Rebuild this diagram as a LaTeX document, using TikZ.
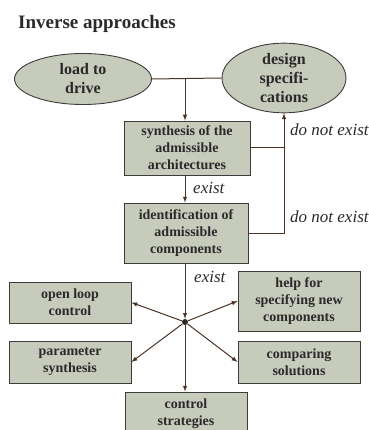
\documentclass[tikz,border=0pt]{standalone}
\usepackage{fontspec}
\setmainfont{Liberation Serif}
\usepackage{tikz}
\usetikzlibrary{shapes, arrows}

\definecolor{boxfill}{HTML}{C7CBBC}
\definecolor{boxline}{HTML}{3C3C3C}
\definecolor{wire}{HTML}{4A3328}
\definecolor{ink}{HTML}{2A2A2A}

\begin{document}
\begin{tikzpicture}[x=1pt, y=-1pt,
    blob/.style = {draw=boxline, fill=boxfill, ellipse, line width=0.9pt, inner sep=0pt,
                   text=ink, font=\fontsize{16}{19}\selectfont\bfseries, align=center},
    box/.style = {draw=boxline, fill=boxfill, rectangle, line width=0.9pt, inner sep=0pt,
                  text=ink, font=\fontsize{14}{17}\selectfont\bfseries, align=center},
    lbl/.style = {anchor=west, inner sep=0pt, text=ink, font=\fontsize{17}{20}\selectfont\itshape},
    wire/.style = {draw=wire, line width=1pt}]
                \clip (0,0) rectangle (368,430);

                \node[anchor=base west, inner sep=0pt, text=ink, font=\fontsize{19}{22}\selectfont\bfseries]
                    at (18, 29) (title) {Inverse approaches};

                \node[blob, minimum width=137, minimum height=51] at (83, 79) (load) {load to\\drive};
                \node[blob, minimum width=124, minimum height=61] at (284, 78) (design) {design\\specifi-\\cations};
                \node[box, minimum width=126, minimum height=54] at (187, 148) (synth) {synthesis of the\\admissible\\architectures};
                \node[box, minimum width=124, minimum height=60] at (186, 233) (ident) {identification of\\admissible\\components};
                \node[box, minimum width=122, minimum height=41] at (70, 302.5) (open) {open loop\\control};
                \node[box, minimum width=122, minimum height=42] at (70, 362) (param) {parameter\\synthesis};
                \node[box, minimum width=122, minimum height=60] at (299, 301) (help) {help for\\specifying new\\components};
                \node[box, minimum width=122, minimum height=42] at (299, 362) (compare) {comparing\\solutions};
                \node[box, minimum width=122, minimum height=44] at (186, 414) (control) {control\\strategies};

                \coordinate (join) at (185, 78);
                \node[circle, fill=ink, inner sep=0pt, minimum size=6] at (185, 322) (hub) {};

                \node[lbl] at (290, 130) (nx1) {do not exist};
                \node[lbl] at (290, 217) (nx2) {do not exist};
                \node[lbl] at (193, 188) (ex1) {exist};
                \node[lbl] at (194, 277) (ex2) {exist};

                \draw [wire] (load.east) -- (design.west);
                \draw [wire, -latex] (join) -- (join |- synth.north);
                \draw [wire, -latex] (synth.south -| join) -- (ident.north -| join);

                \draw [wire] (synth.east) -- (synth.east -| design.south);
                \draw [wire, -latex] (ident.east) -| (design.south);

                \draw [wire, -latex] (ident.south -| hub) -- (hub.north);
                \draw [wire, -latex] (hub) -- (open.east);
                \draw [wire, -latex] (hub) -- (param.east);
                \draw [wire, -latex] (hub) -- (help.west);
                \draw [wire, -latex] (hub) -- (compare.west);
                \draw [wire, -latex] (hub) -- (control.north -| hub);
            \end{tikzpicture}
\end{document}
